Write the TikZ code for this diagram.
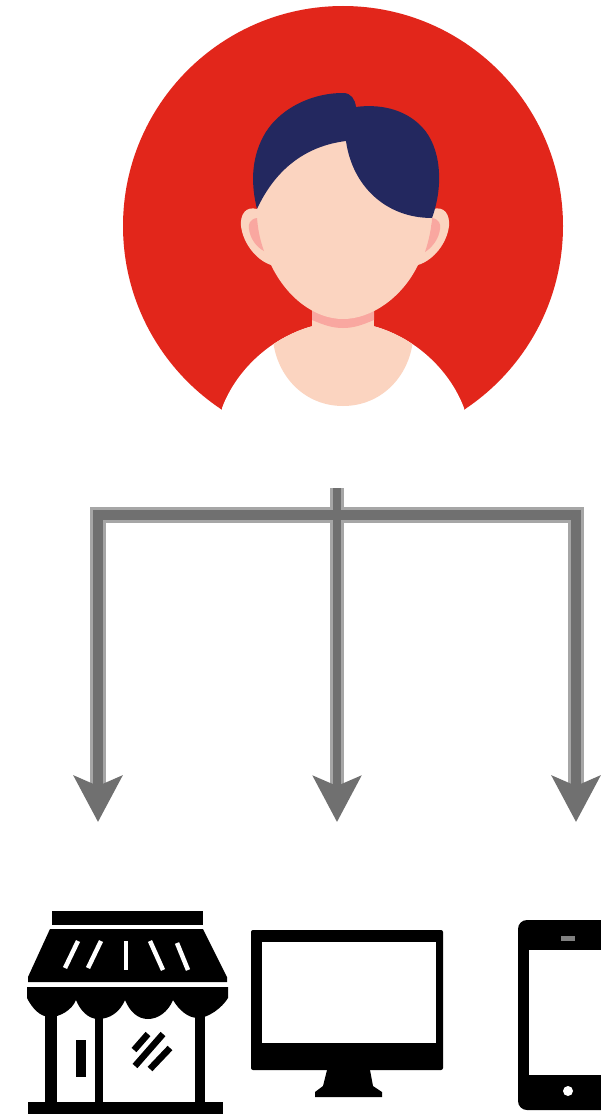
\documentclass[tikz,border=0pt]{standalone}
\usetikzlibrary{arrows.meta}
\definecolor{redbg}{HTML}{E2261B}
\definecolor{navy}{HTML}{23285F}
\definecolor{skin}{HTML}{FBD4C0}
\definecolor{blush}{HTML}{F9A7A0}
\definecolor{linelight}{HTML}{A6A6A6}
\definecolor{linedark}{HTML}{707070}
\tikzset{
  halo/.style={draw=linelight,line width=16pt},
  core/.style={draw=linedark,line width=10pt},
  tip/.style={-{Stealth[length=46pt,width=48pt,inset=10pt,color=linedark]}},
  icon/.style={fill=black,draw=none},
  gap/.style={fill=white,draw=none},
  slit/.style={draw=white,line width=4.5pt,line cap=butt},
  hashline/.style={draw=black,line width=6.5pt}
}
\begin{document}
\begin{tikzpicture}[x=1pt,y=-1pt]
\useasboundingbox (0,0) rectangle (601,1116);
\fill[white] (0,0) rectangle (601,1116);
% avatar
\fill[redbg] (343,226) circle[radius=220];
\fill[white] (222,408) .. controls (240,360) and (290,322) .. (343,322) .. controls (396,322) and (446,360) .. (464,408) -- (464,450) -- (222,450) -- cycle;
\begin{scope}
\clip (222,408) .. controls (240,360) and (290,322) .. (343,322) .. controls (396,322) and (446,360) .. (464,408) -- cycle;
\fill[skin] (273,335) -- (273,340) .. controls (277,377) and (305,406) .. (343,406) .. controls (381,406) and (409,377) .. (413,340) -- (413,320) -- (273,320) -- cycle;
\end{scope}
\fill[skin] (312,305) rectangle (374,332);
\fill[blush] (312,305) -- (374,305) -- (374,320) .. controls (362,325) and (354,328) .. (343,328) .. controls (332,328) and (324,325) .. (312,320) -- cycle;
% ears
\fill[skin] (257,209) .. controls (246,206) and (240,214) .. (241,226) .. controls (243,243) and (256,260) .. (271,265) -- (275,220) -- cycle;
\fill[skin] (433,209) .. controls (444,206) and (450,214) .. (449,226) .. controls (447,243) and (434,260) .. (418,265) -- (415,220) -- cycle;
\fill[blush] (257,218) .. controls (250,219) and (248,224) .. (249,229) .. controls (250,238) and (256,247) .. (264,251) .. controls (260,240) and (258,230) .. (257,218) -- cycle;
\fill[blush] (432,218) .. controls (439,219) and (441,224) .. (440,229) .. controls (439,238) and (433,247) .. (425,252) .. controls (429,240) and (431,230) .. (432,218) -- cycle;
% face
\fill[skin] (257,205) -- (257,209) .. controls (259,232) and (264,252) .. (271,265) .. controls (287,298) and (315,319) .. (343,319) .. controls (371,319) and (402,298) .. (418,265) .. controls (426,250) and (431,232) .. (433,209) -- (433,170) -- (345,130) -- (270,160) -- cycle;
% hair
\fill[navy] (257,209) .. controls (251,185) and (251,160) .. (263,137) .. controls (277,110) and (310,93) .. (343,93) .. controls (351,93) and (355,99) .. (356,107) .. controls (378,104) and (404,108) .. (422,127) .. controls (441,147) and (444,185) .. (432,218) .. controls (385,218) and (352,185) .. (346,141) .. controls (305,146) and (275,170) .. (257,209) -- cycle;
% connectors
\coordinate (trunktop) at (337,488);
\coordinate (trunkend) at (337,822);
\coordinate (barleft) at (98,515);
\coordinate (barright) at (576,515);
\coordinate (leftend) at (98,822);
\coordinate (rightend) at (576,822);
\draw[halo] (leftend |- 0,790) -- (barleft) -- (barright) -- (rightend |- 0,790);
\draw[draw=linelight,line width=14pt] (trunktop) -- (trunkend |- 0,790);
\draw[core,tip] (barleft) -- (leftend);
\draw[core,line cap=rect] (barleft) -- (barright);
\draw[core,tip] (barright) -- (rightend);
\draw[draw=linedark,line width=8pt,tip] (trunktop) -- (trunkend);
% shop
\fill[icon] (52,911) rectangle (203,925);
\fill[icon] (50,929) -- (203,929) -- (227,977) -- (227,982) -- (28,982) -- (28,977) -- cycle;
\draw[slit] (78,941) -- (65,968);
\draw[slit] (101,941) -- (88,968);
\draw[slit] (126,941) -- (126,970);
\draw[slit] (150,941) -- (163,970);
\draw[slit] (177,943) -- (188,970);
\fill[icon] (27,987) -- (228,987) -- (228,998) .. controls (222,1008) and (208,1018) .. (198,1018) .. controls (188,1018) and (179,1010) .. (173,1000) .. controls (168,1012) and (158,1019) .. (148,1019) .. controls (138,1019) and (130,1012) .. (125,1000) .. controls (120,1012) and (110,1019) .. (98,1019) .. controls (88,1019) and (80,1010) .. (76,1000) .. controls (72,1010) and (60,1017) .. (50,1017) .. controls (40,1017) and (32,1008) .. (27,998) -- cycle;
\fill[icon] (45,1010) rectangle (57,1105);
\fill[icon] (95,1015) rectangle (103,1105);
\fill[icon] (195,1010) rectangle (205,1105);
\fill[icon] (28,1102) rectangle (223,1114);
\fill[icon] (76,1040) rectangle (86,1077);
\draw[hashline] (135,1066) -- (163,1034);
\draw[hashline] (150,1069) -- (170,1048);
\draw[hashline] (134,1050) -- (148,1034);
% monitor
\fill[icon,rounded corners=2pt] (251,930) rectangle (443,1070);
\fill[gap] (262,942) rectangle (436,1043);
\fill[icon] (327,1070) -- (370,1070) -- (373,1086) -- (382,1092) -- (382,1097) -- (315,1097) -- (315,1092) -- (323,1086) -- cycle;
% phone
\fill[icon,rounded corners=9pt] (601,920) -- (518,920) -- (518,1110) -- (601,1110);
\fill[icon] (590,920) rectangle (601,1110);
\fill[gap] (529,950) rectangle (601,1075);
\fill[gray] (561,936) rectangle (575,941);
\fill[white] (568,1091) circle[radius=5];
\end{tikzpicture}
\end{document}
